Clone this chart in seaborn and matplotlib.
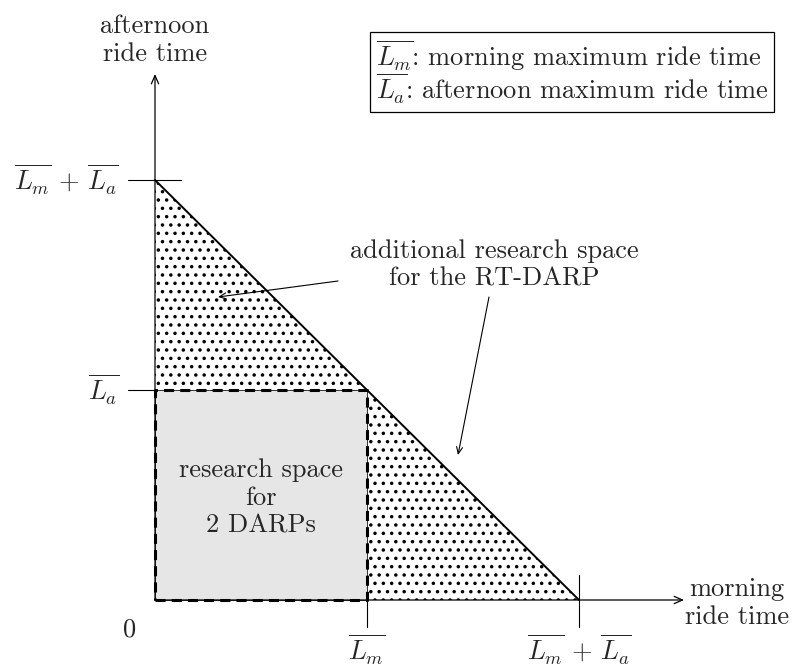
import numpy as np
import matplotlib
matplotlib.use("Agg")
import matplotlib.pyplot as plt
import seaborn as sns

# the two ride time bounds (same length in the figure)
Lm = 1.0
La = 1.0

x_ticks = [Lm, Lm + La]
x_tick_labels = [r"$\overline{L_m}$", r"$\overline{L_m}\,+\,\overline{L_a}$"]
y_ticks = [La, Lm + La]
y_tick_labels = [r"$\overline{L_a}$", r"$\overline{L_m}\,+\,\overline{L_a}$"]

x_axis_label = "morning\nride time"
y_axis_label = "afternoon\nride time"
legend_lines = [r"$\overline{L_m}$: morning maximum ride time",
                r"$\overline{L_a}$: afternoon maximum ride time"]
square_label = "research space\nfor\n2 DARPs"
extra_label = "additional research space\nfor the RT-DARP"

sns.set_theme(style="white")
plt.rcParams["font.family"] = ["cmr10", "DejaVu Serif"]
plt.rcParams["mathtext.fontset"] = "cm"
plt.rcParams["axes.unicode_minus"] = False
plt.rcParams["hatch.linewidth"] = 1.3

# pixel layout of the original drawing -> data units
X0, Y0, SX, SY = 155, 600, 212, 210
def dx(px):
    return (px - X0) / SX
def dy(py):
    return (Y0 - py) / SY

fig = plt.figure(figsize=(7.99, 6.66), dpi=100)
ax = fig.add_axes([0, 0, 1, 1])
ax.set_xlim(dx(0), dx(799))
ax.set_ylim(dy(666), dy(0))
ax.axis("off")

top = Lm + La
# dotted triangle (whole feasible space of the RT-DARP)
ax.fill([0, top, 0], [0, 0, top], facecolor="none", edgecolor="black",
        hatch="..", lw=0, zorder=1)
# grey square for the 2 DARPs
ax.fill([0, Lm, Lm, 0], [0, 0, La, La], facecolor="#e6e6e6",
        edgecolor="#333333", lw=0.7, zorder=2)
ax.plot([0, Lm, Lm, 0, 0], [0, 0, La, La, 0], color="black", lw=2.2,
        linestyle=(0, (3.3, 2)), zorder=3)

# hypotenuse
sns.lineplot(x=[0, top], y=[top, 0], ax=ax, color="black", lw=1.4, zorder=4)

# axes arrows
arrow = dict(arrowstyle="->,head_length=0.5,head_width=0.22", lw=0.9,
             color="black", shrinkA=0, shrinkB=0)
ax.annotate("", xy=(dx(684), 0), xytext=(0, 0), arrowprops=arrow, zorder=5)
ax.annotate("", xy=(0, dy(74)), xytext=(0, 0), arrowprops=arrow, zorder=5)

fs = 19
# tick marks and labels
ax.plot([dx(128), dx(181)], [y_ticks[1], y_ticks[1]], color="black", lw=0.8)
ax.plot([dx(128), 0], [y_ticks[0], y_ticks[0]], color="black", lw=0.8)
ax.plot([x_ticks[0], x_ticks[0]], [0, dy(627)], color="black", lw=0.8)
ax.plot([x_ticks[1], x_ticks[1]], [dy(575), dy(627)], color="black", lw=0.8)
for y, lab in zip(y_ticks, y_tick_labels):
    ax.text(dx(119), y, lab, ha="right", va="center", fontsize=fs)
for x, lab in zip(x_ticks, x_tick_labels):
    ax.text(x, dy(650), lab, ha="center", va="center", fontsize=fs)
ax.text(dx(130), dy(630), "0", ha="center", va="center", fontsize=fs)

# axis labels
ax.text(0, dy(40), y_axis_label, ha="center", va="center", fontsize=fs,
        multialignment="center")
ax.text(dx(737), dy(603), x_axis_label, ha="center", va="center", fontsize=fs,
        multialignment="center")

# region labels
ax.text(Lm / 2, dy(498), square_label, ha="center", va="center", fontsize=fs,
        multialignment="center", zorder=6)
ax.text(dx(494), dy(265), extra_label, ha="center", va="center", fontsize=fs,
        multialignment="center")
thin = dict(arrowstyle="->,head_length=0.4,head_width=0.18", lw=0.8,
            color="black", shrinkA=0, shrinkB=0)
ax.annotate("", xy=(dx(218), dy(297)), xytext=(dx(338), dy(281)),
            arrowprops=thin, zorder=6)
ax.annotate("", xy=(dx(458), dy(455)), xytext=(dx(489), dy(297)),
            arrowprops=thin, zorder=6)

# legend box
ax.text(dx(376), dy(72), "\n".join(legend_lines), ha="left", va="center",
        fontsize=fs, linespacing=0.95,
        bbox=dict(boxstyle="square,pad=0.22", facecolor="white",
                  edgecolor="black", lw=0.9))

fig.savefig("out.png", dpi=100)
